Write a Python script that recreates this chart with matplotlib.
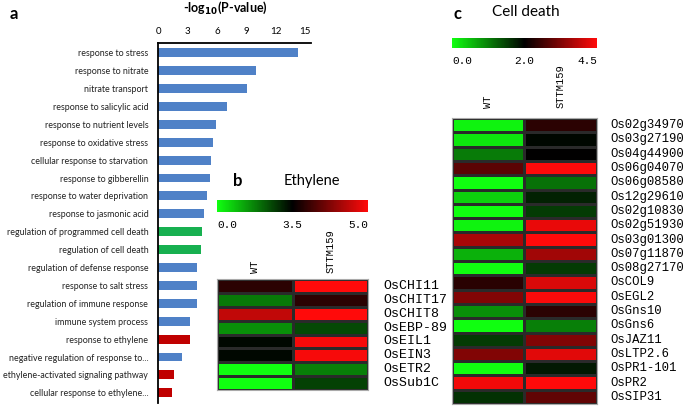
import numpy as np
import matplotlib
matplotlib.use("Agg")
import matplotlib.pyplot as plt
from matplotlib.colors import LinearSegmentedColormap, TwoSlopeNorm

W, H = 685, 407

# panel a: GO enrichment
go_terms = ["response to stress", "response to nitrate", "nitrate transport",
            "response to salicylic acid", "response to nutrient levels",
            "response to oxidative stress", "cellular response to starvation",
            "response to gibberellin", "response to water deprivation",
            "response to jasmonic acid", "regulation of programmed cell death",
            "regulation of cell death", "regulation of defense response",
            "response to salt stress", "regulation of immune response",
            "immune system process", "response to ethylene",
            "negative regulation of response to...",
            "ethylene-activated signaling pathway",
            "cellular response to ethylene..."]
go_logp = [14.3, 9.95, 9.1, 7.05, 5.9, 5.65, 5.4, 5.3, 4.95, 4.65, 4.5, 4.4,
           4.0, 4.0, 3.95, 3.3, 3.22, 2.45, 1.65, 1.45]
go_group = ["other"] * 10 + ["death", "death"] + ["other"] * 4 + ["ethylene", "other", "ethylene", "ethylene"]
group_colors = {"other": "#4f81c7", "death": "#17b050", "ethylene": "#c00000"}

# panel b: ethylene genes
eth_genes = ["OsCHI11", "OsCHIT17", "OsCHIT8", "OsEBP-89", "OsEIL1", "OsEIN3", "OsETR2", "OsSub1C"]
eth_wt = [3.75, 1.85, 4.63, 1.54, 3.4, 3.4, 0.0, 0.0]
eth_sttm = [5.0, 3.75, 5.0, 2.49, 4.95, 4.95, 1.75, 2.62]
eth_scale = (0.0, 3.5, 5.0)

# panel c: cell death genes
cd_genes = ["Os02g34970", "Os03g27190", "Os04g44900", "Os06g04070", "Os06g08580",
            "Os12g29610", "Os02g10830", "Os02g51930", "Os03g01300", "Os07g11870",
            "Os08g27170", "OsCOL9", "OsEGL2", "OsGns10", "OsGns6", "OsJAZ11",
            "OsLTP2.6", "OsPR1-101", "OsPR2", "OsSIP31"]
cd_wt = [0.1, 0.2, 1.04, 2.88, 0.0, 0.36, 0.0, 0.1, 3.65, 0.62,
         0.0, 2.4, 3.25, 0.88, 0.0, 1.54, 3.25, 0.0, 4.35, 1.62]
cd_sttm = [2.42, 1.95, 2.0, 4.5, 1.12, 1.74, 1.54, 4.28, 4.5, 3.57,
           1.54, 4.12, 4.45, 2.42, 1.0, 3.25, 4.2, 1.8, 4.5, 2.95]
cd_scale = (0.0, 2.0, 4.5)

samples = ["WT", "STTM159"]

cmap = LinearSegmentedColormap.from_list("gbr", ["#10ff10", "#000000", "#ff0a0a"])
label_font = "Lato"
gene_font = "Liberation Mono"


def rect(x0, y0, x1, y1):
    return [x0 / W, 1 - y1 / H, (x1 - x0) / W, (y1 - y0) / H]


def ftext(x, y, s, **kw):
    fig.text(x / W, 1 - y / H, s, **kw)


fig = plt.figure(figsize=(W / 100, H / 100), dpi=100)

# ---- a ----
ax = fig.add_axes(rect(158, 42.7, 311, 403))
ypos = np.arange(len(go_terms))
ax.barh(ypos, go_logp, height=0.5, color=[group_colors[g] for g in go_group])
ax.set_xlim(0, 15.6)
ax.set_ylim(19.57, -0.56)
ax.xaxis.tick_top()
ax.set_xticks([0, 3, 6, 9, 12, 15])
ax.set_yticks(ypos)
ax.set_yticklabels(go_terms, fontsize=6.4, family=label_font, color="#222222")
ax.tick_params(axis='x', length=0, pad=5, labelsize=7)
ax.tick_params(axis='y', length=0, pad=7)
for lab in ax.get_xticklabels():
    lab.set_family(label_font)
for s in ["right", "bottom"]:
    ax.spines[s].set_visible(False)
ax.spines["top"].set_linewidth(1.3)
ax.spines["left"].set_linewidth(1.3)
ftext(225, 8, r"-log$_{\mathbf{10}}$(P-value)", ha="center", va="center",
      fontsize=9, fontweight="bold", family=label_font)
ftext(14, 14, "a", ha="center", va="center", fontsize=12, fontweight="bold", family=label_font)


def heat_panel(wt, sttm, genes, scale, hx0, hx1, hy0, hy1, cb_y0, cb_y1, col_y, gene_x, gene_fs):
    data = np.array([wt, sttm]).T
    norm = TwoSlopeNorm(vmin=scale[0], vcenter=scale[1], vmax=scale[2])
    hax = fig.add_axes(rect(hx0, hy0, hx1, hy1))
    mesh = hax.pcolormesh(data, cmap=cmap, norm=norm, edgecolors="#2a2a2a", linewidth=0.8)
    hax.set_ylim(len(genes), 0)
    hax.set_xticks([])
    hax.set_yticks([])
    for s in hax.spines.values():
        s.set_edgecolor("#aaaaaa")
        s.set_linewidth(0.8)
    colw = (hx1 - hx0) / 2
    for i, name in enumerate(samples):
        ftext(hx0 + colw * (i + 0.5), col_y, name, rotation=90, ha="center", va="bottom",
              fontsize=7.5, family=gene_font)
    rowh = (hy1 - hy0) / len(genes)
    for j, g in enumerate(genes):
        ftext(gene_x, hy0 + rowh * (j + 0.5), g, ha="left", va="center",
              fontsize=gene_fs, family=gene_font)
    cax = fig.add_axes(rect(hx0, cb_y0, hx1, cb_y1))
    cb = fig.colorbar(mesh, cax=cax, orientation="horizontal", ticks=list(scale))
    cb.outline.set_visible(False)
    cb.ax.set_xticklabels([f"{v:.1f}" for v in scale], family=gene_font, fontsize=8)
    cb.ax.tick_params(length=0, pad=6)
    labs = cb.ax.get_xticklabels()
    labs[0].set_ha("left")
    labs[-1].set_ha("right")
    return hax


# ---- b ----
heat_panel(eth_wt, eth_sttm, eth_genes, eth_scale, 217, 368, 279, 390,
           200, 212, 273, 383, 9.5)
ftext(238, 181, "b", ha="center", va="center", fontsize=12, fontweight="bold", family=label_font)
ftext(312, 181, "Ethylene", ha="center", va="center", fontsize=10.5, family=label_font)

# ---- c ----
heat_panel(cd_wt, cd_sttm, cd_genes, cd_scale, 452, 597, 118, 404,
           38, 48, 108, 610, 8.8)
ftext(457, 14, "c", ha="center", va="center", fontsize=12, fontweight="bold", family=label_font)
ftext(526, 12, "Cell death", ha="center", va="center", fontsize=11, family=label_font)

fig.savefig("out.png", dpi=100)
